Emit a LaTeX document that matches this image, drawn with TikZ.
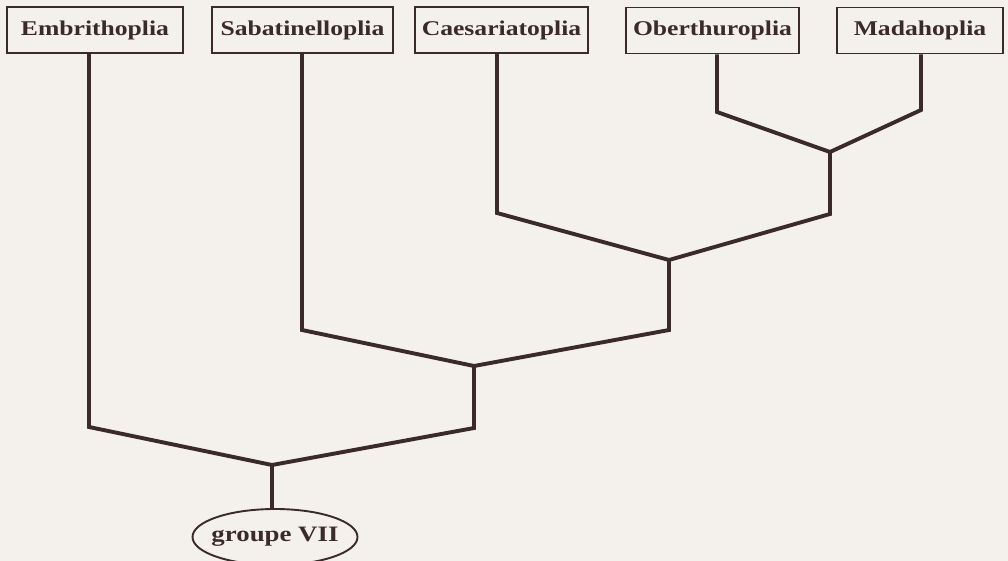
\documentclass[tikz,border=0pt]{standalone}
\usepackage{fontspec}
\setmainfont[FakeStretch=1.22]{Liberation Serif}
\usetikzlibrary{shapes.geometric}
\definecolor{ink}{HTML}{3A2A2A}
\definecolor{paper}{HTML}{F4F1ED}
\tikzset{
  taxon/.style={draw=ink, line width=1.7pt, rectangle, minimum height=46pt, inner sep=0pt, text=ink,
    font=\fontsize{21}{25}\selectfont\bfseries},
  groupnode/.style={draw=ink, line width=1.9pt, ellipse, minimum width=165pt, minimum height=56pt,
    inner xsep=-7pt, inner ysep=0pt, text=ink,
    font=\fontsize{22}{26}\selectfont\bfseries},
  branch/.style={draw=ink, line width=3.9pt, line join=miter, line cap=butt}
}
\begin{document}
\begin{tikzpicture}[x=1pt,y=-1pt]
\fill[paper] (0,0) rectangle (1008,561);
\useasboundingbox (0,0) rectangle (1008,561);
% taxa boxes
\node[taxon, minimum width=176pt] (emb) at (95,30) {Embrithoplia};
\node[taxon, minimum width=181pt] (sab) at (302.5,30) {Sabatinelloplia};
\node[taxon, minimum width=173pt] (cae) at (501.5,30) {Caesariatoplia};
\node[taxon, minimum width=173pt] (obe) at (712.5,30.5) {Oberthuroplia};
\node[taxon, minimum width=166pt] (mad) at (920,30.5) {Madahoplia};
\node[groupnode] (grp) at (275,537) {groupe VII};
% bend points
\coordinate (bemb) at (89,427);
\coordinate (bsab) at (302,330);
\coordinate (bcae) at (497,213);
\coordinate (bobe) at (717,112);
\coordinate (bmad) at (921,110);
% junctions
\coordinate (j1) at (830,152);
\coordinate (k1) at (830,214);
\coordinate (j2) at (669,260);
\coordinate (k2) at (669,330);
\coordinate (j3) at (474,366);
\coordinate (k3) at (474,428);
\coordinate (j4) at (272,465);
% branches
\draw[branch] (obe.south -| bobe) -- (bobe) -- (j1);
\draw[branch] (mad.south -| bmad) -- (bmad) -- (j1);
\draw[branch] (j1) -- (k1) -- (j2);
\draw[branch] (cae.south -| bcae) -- (bcae) -- (j2);
\draw[branch] (j2) -- (k2) -- (j3);
\draw[branch] (sab.south -| bsab) -- (bsab) -- (j3);
\draw[branch] (j3) -- (k3) -- (j4);
\draw[branch] (emb.south -| bemb) -- (bemb) -- (j4);
\draw[branch] (j4) -- (j4 |- grp.north);
\end{tikzpicture}
\end{document}
